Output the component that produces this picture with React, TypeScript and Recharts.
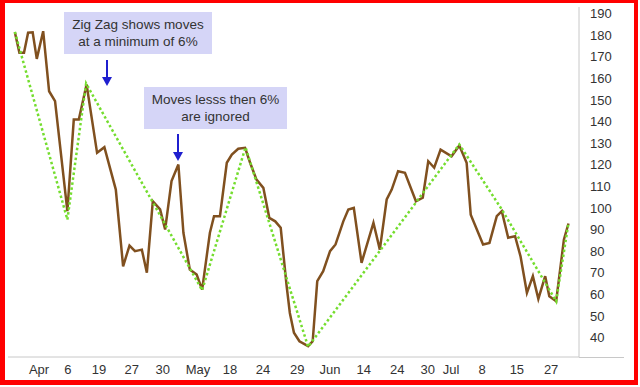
import { LineChart, Line, XAxis, YAxis } from "recharts";

// trading-day position and closing price
const dayPos = [
  1.5, 2.5, 3.5, 4.4, 5.4, 6.3, 7.7, 9.0, 10.3, 13.0, 14.4, 15.5, 17.2, 19.5, 21.1, 23.6, 25.2, 26.6, 27.8, 29.3,
  30.4, 31.7, 33.3, 34.4, 35.8, 37.3, 38.4, 39.8, 41.3, 42.5, 44.2, 45.1, 46.4, 47.9, 49.0, 50.4, 51.9, 53.0, 54.4, 55.9,
  57.2, 58.5, 59.7, 61.0, 61.7, 62.6, 63.8, 65.7, 66.7, 67.7, 69.0, 70.5, 71.7, 73.4, 74.5, 75.7, 77.4, 80.0, 81.4, 82.9,
  84.0, 85.4, 86.9, 89.3, 90.8, 92.0, 93.3, 94.7, 97.1, 98.8, 100.4, 101.3, 104.0, 105.4, 107.0, 108.1, 109.5, 111.0, 112.2, 113.6,
  114.9, 116.1, 117.6, 118.5, 120.0, 121.7, 122.7,
];
const price = [
  181.3, 171.8, 171.8, 181.1, 181.3, 169.0, 181.8, 154.0, 149.4, 98.5, 140.9, 140.9, 157.1, 125.5, 128.1, 108.5, 73.0, 82.6, 80.0, 80.7,
  70.0, 103.1, 99.3, 90.0, 112.4, 120.1, 88.5, 71.5, 69.2, 62.2, 88.5, 96.2, 96.2, 120.9, 124.7, 127.4, 127.8, 120.9, 113.1, 109.3,
  95.4, 93.8, 90.8, 63.8, 51.4, 42.2, 38.3, 36.0, 38.3, 66.1, 70.7, 80.0, 83.1, 93.8, 99.3, 100.0, 74.6, 93.1, 80.7, 103.9,
  108.5, 117.0, 116.3, 103.1, 104.7, 121.6, 118.6, 127.0, 123.9, 128.9, 120.9, 96.9, 83.1, 83.8, 96.2, 98.5, 86.2, 86.9, 77.6, 60.7,
  68.4, 57.9, 68.4, 59.1, 56.8, 85.4, 92.8,
];

// zig zag pivots (6% filter)
const zigDay = [1.5, 13.0, 17.1, 42.5, 52.0, 65.7, 98.8, 108.1, 120.0, 122.7];
const zigValue = [181.5, 94.6, 157.6, 61.9, 128.1, 35.7, 129.4, 99.3, 56.8, 93.1];

const tickPos = [6.8, 13.1, 19.9, 27.1, 33.9, 41.6, 48.6, 55.8, 63.3, 70.5, 77.9, 85.2, 91.9, 97.0, 103.8, 111.4, 118.9];
const tickLabels = ["Apr", "6", "19", "27", "30", "May", "18", "24", "29", "Jun", "14", "24", "30", "Jul", "8", "15", "27"];

const yTicks = [40, 50, 60, 70, 80, 90, 100, 110, 120, 130, 140, 150, 160, 170, 180, 190];

const priceData = dayPos.map((d, i) => ({ day: d, price: price[i] }));
const zigData = zigDay.map((d, i) => ({ day: d, zig: zigValue[i] }));

const font = '"Liberation Sans", Arial, sans-serif';

const boxStyle: React.CSSProperties = {
  position: "absolute",
  background: "#d5d5f7",
  color: "#333",
  fontFamily: font,
  fontSize: 13.5,
  lineHeight: "17px",
  textAlign: "center",
  display: "flex",
  alignItems: "center",
  justifyContent: "center",
};

const Arrow = ({ left, top, len }: { left: number; top: number; len: number }) => (
  <svg style={{ position: "absolute", left: left - 6, top }} width={12} height={len}>
    <line x1={6} y1={0} x2={6} y2={len - 6} stroke="#1f1fcf" strokeWidth={2} />
    <polygon points={`1,${len - 9} 11,${len - 9} 6,${len}`} fill="#1f1fcf" />
  </svg>
);

export default function App() {
  return (
    <div style={{ position: "absolute", left: 0, top: 0, width: 640, height: 387, background: "#fff", overflow: "hidden" }}>
      <LineChart width={640} height={387} margin={{ top: 7, right: 16, bottom: 0, left: 8 }}>
        <XAxis
          dataKey="day"
          type="number"
          domain={[0, 125]}
          ticks={tickPos}
          tickFormatter={(v) => tickLabels[tickPos.indexOf(v)] ?? ""}
          height={30}
          tickSize={0}
          tickMargin={8}
          stroke="#c8c8c8"
          tick={{ fill: "#333", fontSize: 13, fontFamily: font }}
          allowDuplicatedCategory={false}
        />
        <YAxis
          orientation="right"
          domain={[31, 193]}
          ticks={yTicks}
          width={45}
          tickSize={0}
          tickMargin={11}
          stroke="#c8c8c8"
          tick={{ fill: "#333", fontSize: 13, fontFamily: font, textAnchor: "start" }}
        />
        <Line data={priceData} dataKey="price" type="linear" stroke="#80501f" strokeWidth={2.5} dot={false} isAnimationActive={false} />
        <Line data={zigData} dataKey="zig" type="linear" stroke="#74dd2e" strokeWidth={2.5} strokeDasharray="2.5 2.5" dot={false} isAnimationActive={false} />
      </LineChart>
      {/* x axis line runs on under the value labels */}
      <div style={{ position: "absolute", left: 579, top: 357, width: 45, height: 1, background: "#c8c8c8" }} />

      <div style={{ ...boxStyle, left: 64, top: 12, width: 148, height: 42 }}>
        Zig Zag shows moves
        <br />
        at a minimum of 6%
      </div>
      <Arrow left={107} top={60} len={26} />

      <div style={{ ...boxStyle, left: 144, top: 87, width: 143, height: 42 }}>
        Moves lesss then 6%
        <br />
        are ignored
      </div>
      <Arrow left={178} top={134} len={27} />

      <div
        style={{
          position: "absolute",
          left: 0,
          top: 0,
          width: 638,
          height: 385,
          boxSizing: "border-box",
          borderStyle: "solid",
          borderColor: "#ff0000",
          borderWidth: "3px 4px 5px 5px",
          pointerEvents: "none",
        }}
      />
    </div>
  );
}
